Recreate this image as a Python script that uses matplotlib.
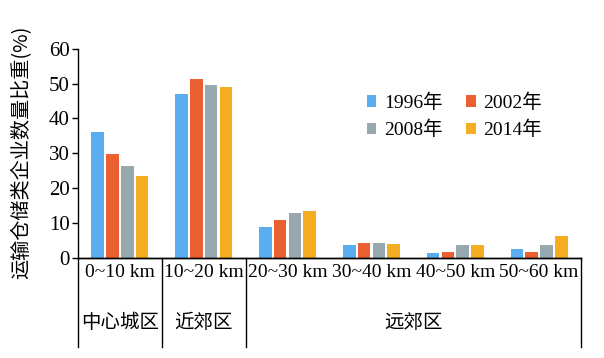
import matplotlib
matplotlib.use("Agg")
import matplotlib.pyplot as plt
import numpy as np

categories = ["0~10 km", "10~20 km", "20~30 km", "30~40 km", "40~50 km", "50~60 km"]
zones = ["中心城区", "近郊区", "远郊区"]
zone_spans = [(0, 0), (1, 1), (2, 5)]
years = ["1996年", "2002年", "2008年", "2014年"]
v1996 = [36.2, 46.9, 8.8, 3.6, 1.4, 2.5]
v2002 = [29.7, 51.2, 11.0, 4.4, 1.8, 1.8]
v2008 = [26.4, 49.5, 12.8, 4.4, 3.6, 3.6]
v2014 = [23.5, 49.1, 13.6, 4.0, 3.6, 6.4]
series = [v1996, v2002, v2008, v2014]
colors = ["#5AAEF0", "#EA6030", "#97A9AF", "#F5AE22"]
yticks = [0, 10, 20, 30, 40, 50, 60]

serif = ["Liberation Serif", "Noto Sans CJK SC"]
cjk = ["Noto Sans CJK SC", "DejaVu Sans"]

fig = plt.figure(figsize=(6.04, 3.58), dpi=100)
ax = fig.add_axes([78/604, 1-258/358, (581-78)/604, (258-48.7)/358])

x = np.arange(len(categories))
step = 0.176
w = 0.15
bars = []
for i, (vals, c, lab) in enumerate(zip(series, colors, years)):
    bars.append(ax.bar(x + (i - 1.5) * step, vals, width=w, color=c, label=lab, zorder=2))

ax.set_xlim(-0.5, len(categories) - 0.5)
ax.set_ylim(0, 60)
ax.set_yticks(yticks)
ax.set_yticklabels([str(t) for t in yticks], family=serif, fontsize=15)
ax.set_xticks(x)
ax.set_xticklabels(categories, family=serif, fontsize=14)
ax.tick_params(axis="x", length=0, pad=4)
ax.tick_params(axis="y", length=4, width=1, direction="out", pad=2)
for s in ["top", "right"]:
    ax.spines[s].set_visible(False)
for s in ["left", "bottom"]:
    ax.spines[s].set_linewidth(1.0)

ax.set_ylabel("运输仓储类企业数量比重(%)", family=cjk, fontsize=14.5)
ax.yaxis.set_label_coords(-(78 - 32) / 503, (258 - 152) / (258 - 48.7))

# lower category box
bottom = -(347 - 258) / (258 - 48.7)
trans = matplotlib.transforms.blended_transform_factory(ax.transData, ax.transAxes)
for xb in [-0.5, 0.5, 1.5, len(categories) - 0.5]:
    ax.plot([xb, xb], [0, bottom], color="black", lw=1.0, transform=trans, clip_on=False)
ax.plot([-0.5, len(categories) - 0.5], [0, 0], color="black", lw=1.0, transform=trans, clip_on=False)
zone_y = -(322 - 258) / (258 - 48.7)
for name, (a, b) in zip(zones, zone_spans):
    ax.text((a + b) / 2, zone_y, name, transform=trans, ha="center", va="center",
            family=cjk, fontsize=14)

order = [0, 2, 1, 3]
leg = ax.legend([bars[i] for i in order], [years[i] for i in order],
                ncol=2, loc="upper left", bbox_to_anchor=(349/604, 1-76/358),
                bbox_transform=fig.transFigure, frameon=False,
                prop={"family": serif, "size": 14},
                handlelength=0.5, handleheight=0.5, handletextpad=0.4,
                columnspacing=1.2, labelspacing=0.45)

fig.savefig("out.png", dpi=100)
